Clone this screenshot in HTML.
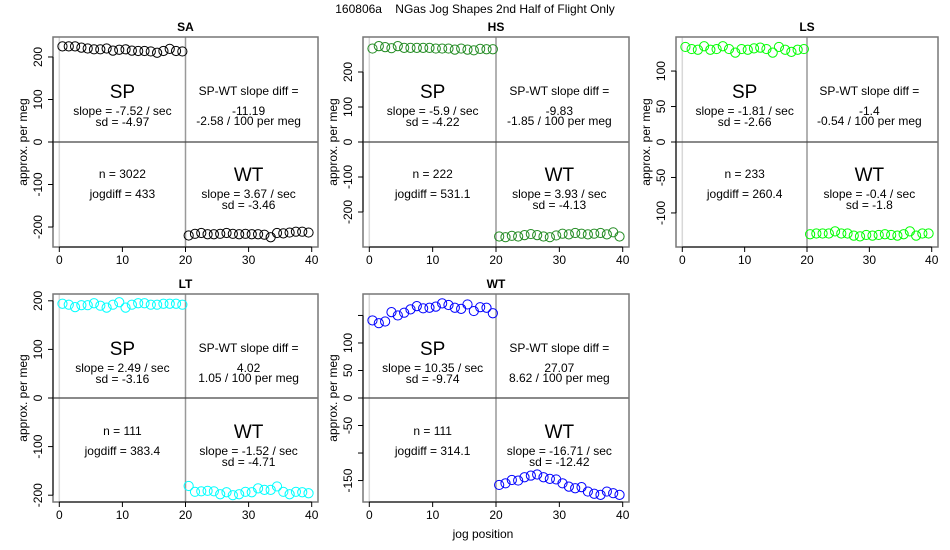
<!DOCTYPE html>
<html><head><meta charset="utf-8"><style>
body{margin:0;background:#fff}
svg{display:block;font-family:"Liberation Sans",sans-serif}
</style></head><body>
<svg id="chart" width="950" height="550" viewBox="0 0 950 550" xmlns="http://www.w3.org/2000/svg">
<text x="475" y="13" text-anchor="middle" font-size="12" style="white-space:pre">160806a    NGas Jog Shapes 2nd Half of Flight Only</text>
<text x="483" y="538" text-anchor="middle" font-size="12">jog position</text>
</svg>
<script>
const panelNames=["SA","HS","LS","LT","WT"];
const panelColors=["#000000","#228b22","#00ff00","#00ffff","#0000ff"];
const saSP=[225,225,225,222,220,218,218,220,215,217,218,215,214,214,213,210,214,219,214,213];
const saWT=[-220,-216,-214,-217,-217,-216,-214,-216,-217,-216,-217,-217,-218,-224,-214,-215,-213,-211,-211,-213];
const hsSP=[267,274,271,268,274,269,269,269,269,269,267,267,267,264,267,264,262,266,265,265];
const hsWT=[-270,-272,-268,-270,-266,-263,-266,-270,-272,-267,-262,-264,-260,-262,-264,-262,-260,-264,-258,-270];
const lsSP=[134,131,130,135,130,131,135,131,126,131,130,132,133,131,126,134,130,127,130,131];
const lsWT=[-130,-129,-129,-129,-126,-129,-129,-132,-133,-131,-132,-131,-130,-131,-132,-130,-126,-132,-129,-129];
const ltSP=[194,192,187,191,191,195,190,186,192,197,186,192,195,195,192,192,194,194,194,192];
const ltWT=[-181,-193,-192,-191,-192,-198,-194,-200,-198,-193,-194,-186,-189,-189,-182,-193,-198,-193,-194,-196];
const wtSP=[141,136,139,156,150,155,161,167,163,164,166,172,169,164,162,170,158,165,164,154];
const wtWT=[-158,-155,-149,-150,-144,-141,-139,-144,-147,-148,-155,-161,-164,-162,-170,-174,-176,-170,-173,-176];
const spSeries=[saSP,hsSP,lsSP,ltSP,wtSP];
const wtSeries=[saWT,hsWT,lsWT,ltWT,wtWT];
const yHalfRange=[247,300,148,214,189];
const yTicks=[[200,100,0,-100,-200],[200,100,0,-100,-200],[100,50,0,-50,-100],[200,100,0,-100,-200],[150,100,50,0,-50,-100,-150]];
const yTickLabels=[["200","100","0","-100","-200"],["200","100","0","-100","-200"],["100","50","0","-50","-100"],["200","100","0","-100","-200"],["","100","50","0","-50","","-150"]];
const xTicks=[0,10,20,30,40];
const spSlope=["slope = -7.52 / sec","slope = -5.9 / sec","slope = -1.81 / sec","slope = 2.49 / sec","slope = 10.35 / sec"];
const spSd=["sd = -4.97","sd = -4.22","sd = -2.66","sd = -3.16","sd = -9.74"];
const diffVal=["-11.19","-9.83","-1.4","4.02","27.07"];
const perMeg=["-2.58 / 100 per meg","-1.85 / 100 per meg","-0.54 / 100 per meg","1.05 / 100 per meg","8.62 / 100 per meg"];
const nVal=["n = 3022","n = 222","n = 233","n = 111","n = 111"];
const jogdiff=["jogdiff = 433","jogdiff = 531.1","jogdiff = 260.4","jogdiff = 383.4","jogdiff = 314.1"];
const wtSlope=["slope = 3.67 / sec","slope = 3.93 / sec","slope = -0.4 / sec","slope = -1.52 / sec","slope = -16.71 / sec"];
const wtSd=["sd = -3.46","sd = -4.13","sd = -1.8","sd = -4.71","sd = -12.42"];

const boxes=[[53,37,265,210],[363,37,266,210],[676,37,262,210],[53,294,265,208],[363,294,266,208]];
const NS="http://www.w3.org/2000/svg";
const svg=document.getElementById('chart');
function mk(tag,attrs,parent,txt){const e=document.createElementNS(NS,tag);for(const k in attrs)e.setAttribute(k,attrs[k]);if(txt!==undefined)e.textContent=txt;parent.appendChild(e);return e;}

panelNames.forEach((nm,i)=>{
  const [L,T,W,H]=boxes[i];
  const g=mk('g',{},svg);
  
  
  const x0=L+6.3, xs=(W-12.6)/40;
  const X=v=>x0+v*xs;
  const yc=T+H/2, ys=(H/2)/yHalfRange[i];
  const Y=v=>yc-v*ys;
  const t=mk('text',{x:L+W/2,y:T-6,'text-anchor':'middle','font-size':12,'font-weight':'bold'},g,nm);
  
  
  mk('line',{x1:X(0),x2:X(0),y1:T,y2:T+H,stroke:'#d8d8d8','stroke-width':1.5},g);
  const vl=mk('line',{x1:X(20),x2:X(20),y1:T,y2:T+H,stroke:'#999','stroke-width':1.5},g);
  
  
  const zl=mk('line',{x1:L,x2:L+W,y1:Y(0),y2:Y(0),stroke:'#444','stroke-width':1.2},g);
  
  
  const bx=mk('rect',{x:L,y:T,width:W,height:H,fill:'none',stroke:'#777','stroke-width':1.5},g);
  
  
  xTicks.forEach(v=>{
    mk('line',{x1:X(v),x2:X(v),y1:T+H,y2:T+H+5,stroke:'#000'},g);
    const tl=mk('text',{x:X(v),y:T+H+17,'text-anchor':'middle','font-size':12},g,String(v));
    
    
  });
  mk('line',{x1:X(0),x2:X(40),y1:T+H,y2:T+H,stroke:'#000'},g);
  const yt=yTicks[i];
  mk('line',{x1:L,x2:L,y1:Y(yt[0]),y2:Y(yt[yt.length-1]),stroke:'#000'},g);
  yt.forEach((v,k)=>{
    mk('line',{x1:L-5,x2:L,y1:Y(v),y2:Y(v),stroke:'#000'},g);
    if(yTickLabels[i][k]){
      const tl=mk('text',{x:0,y:0,'text-anchor':'middle','font-size':12,transform:`translate(${L-11},${Y(v)}) rotate(-90)`},g,yTickLabels[i][k]);
      
      
    }
  });
  const ya=mk('text',{x:0,y:0,'text-anchor':'middle','font-size':12,transform:`translate(${L-26},${T+H/2}) rotate(-90)`},g,'approx. per meg');
  
  
  spSeries[i].forEach((v,k)=>{
    const c=mk('circle',{cx:X(k+0.5),cy:Y(v),r:4.6,fill:'none',stroke:panelColors[i],'stroke-width':1},g);
    
    
  });
  wtSeries[i].forEach((v,k)=>{
    const c=mk('circle',{cx:X(k+20.5),cy:Y(v),r:4.6,fill:'none',stroke:panelColors[i],'stroke-width':1},g);
    
    
  });
  const lx=X(10), rx=X(30);
  const txt=(x,dy,s,fs,name)=>{const e=mk('text',{x:x,y:T+dy,'text-anchor':'middle','font-size':fs},g,s);};
  txt(lx,61,'SP',19,'sp-label');
  txt(lx,78,spSlope[i],12,'sp-slope');
  txt(lx,89,spSd[i],12,'sp-sd');
  txt(rx,58,'SP-WT slope diff =',12,'diff-label');
  txt(rx,78,diffVal[i],12,'diff-value');
  txt(rx,88,perMeg[i],12,'diff-per-meg');
  txt(lx,141,nVal[i],12,'n-value');
  txt(lx,161,jogdiff[i],12,'jogdiff-value');
  txt(rx,144,'WT',19,'wt-label');
  txt(rx,161,wtSlope[i],12,'wt-slope');
  txt(rx,172,wtSd[i],12,'wt-sd');
});
</script>
</body></html>
